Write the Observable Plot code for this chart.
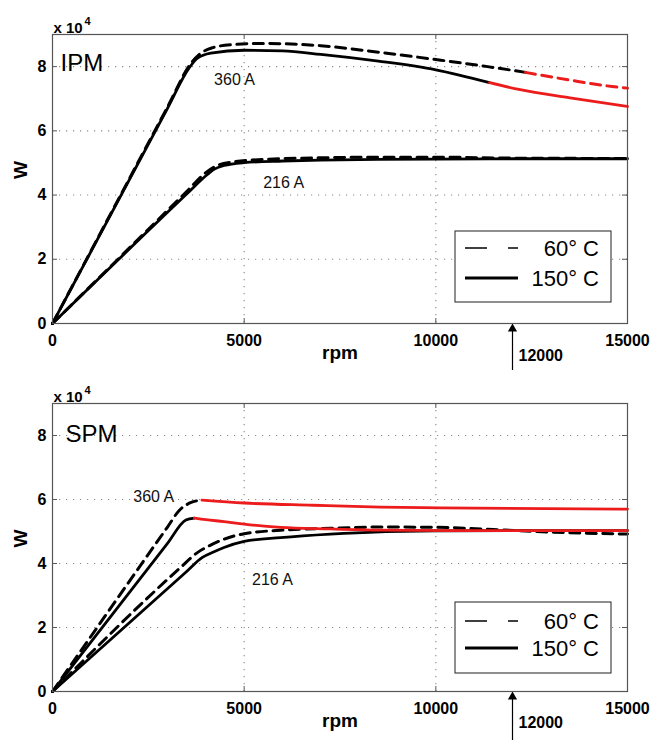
<!DOCTYPE html>
<html>
<head>
<meta charset="utf-8">
<script src="https://cdn.jsdelivr.net/npm/d3@7"></script>
<script src="https://cdn.jsdelivr.net/npm/@observablehq/plot@0.6"></script>
<style>
  body { margin: 0; background: #fff; }
  #chart svg { display: block; }
</style>
</head>
<body>
<div id="chart"></div>
<script>
// ---------- axes ----------
const xTicks = [0, 5000, 10000, 15000];
const yTicks = [0, 20000, 40000, 60000, 80000];
const gridXValues = [5000, 10000];
const gridYValues = [20000, 40000, 60000, 80000];
const xDomain = [0, 15000];
const yDomain = [0, 90000];
const markRpm = [12000];
const legendLabels = ["60° C", "150° C"];
const currentLabels = ["360 A", "216 A"];

// ---------- IPM panel ----------
const ipm360Hot_rpm    = [0, 3000, 3560, 3780, 4130, 5000, 6000, 7000, 8500, 10000, 11400];
const ipm360Hot_W      = [0, 67000, 79500, 82600, 84200, 85100, 84900, 83800, 81700, 79000, 75000];
const ipm360HotRed_rpm = [11400, 12200, 13500, 15000];
const ipm360HotRed_W   = [75000, 72800, 70300, 67600];
const ipm360Cold_rpm   = [0, 3000, 3600, 3850, 4150, 4650, 5500, 7000, 8500, 10000, 11350, 12340];
const ipm360Cold_W     = [0, 67400, 80800, 84000, 85800, 86800, 87200, 86500, 84500, 82200, 80000, 78200];
const ipm360ColdRed_rpm = [12340, 13500, 14600, 15000];
const ipm360ColdRed_W   = [78200, 75800, 73800, 73300];
const ipm216Hot_rpm    = [0, 3500, 4040, 4200, 4475, 5000, 6000, 7000, 8500, 10000, 12000, 15000];
const ipm216Hot_W      = [0, 40300, 46400, 47900, 49200, 50100, 50600, 50900, 51100, 51200, 51300, 51300];
const ipm216Cold_rpm   = [0, 3500, 4000, 4300, 4700, 5500, 7000, 8500, 10000, 12000, 15000];
const ipm216Cold_W     = [0, 41100, 47000, 49200, 50300, 51100, 51600, 51800, 51800, 51500, 51400];
const ipmLabel_rpm = [4750, 6030];
const ipmLabel_W   = [76000, 43700];

// ---------- SPM panel ----------
const spm360Hot_rpm    = [0, 3000, 3480, 3700];
const spm360Hot_W      = [0, 46300, 53600, 54200];
const spm360HotRed_rpm = [3700, 4000, 4475, 5000, 5950, 7250, 8560, 10300, 15000];
const spm360HotRed_W   = [54200, 53700, 53100, 52300, 51300, 50800, 50400, 50300, 50300];
const spm360Cold_rpm   = [0, 3000, 3300, 3600, 3900];
const spm360Cold_W     = [0, 51400, 56500, 59000, 59800];
const spm360ColdRed_rpm = [3900, 5000, 6800, 8560, 10100, 15000];
const spm360ColdRed_W   = [59800, 58900, 58200, 57600, 57400, 57000];
const spm216Hot_rpm    = [0, 3500, 3910, 4200, 4475, 5000, 5950, 7250, 8560, 10300, 12000, 15000];
const spm216Hot_W      = [0, 37500, 41900, 43600, 45000, 46900, 48100, 49200, 49900, 50200, 50300, 50300];
const spm216Cold_rpm   = [0, 3300, 3780, 4100, 4475, 5000, 5950, 7250, 8560, 10000, 11500, 13000, 15000];
const spm216Cold_W     = [0, 38300, 43400, 45600, 47600, 49300, 50400, 51000, 51400, 51300, 50600, 49800, 49200];
const spmLabel_rpm = [2640, 5740];
const spmLabel_W   = [60800, 35000];

// ---------- helpers ----------
const FONT = "'Liberation Sans', Arial, Helvetica, sans-serif";
const RED = "#ec1c1c";
const rows = (rpm, W) => rpm.map((r, i) => ({rpm: r, W: W[i]}));

function lineMark(rpm, W, color, dashed) {
  return Plot.line(rows(rpm, W), {
    x: "rpm", y: "W", stroke: color,
    strokeWidth: dashed ? 3 : 2.8,
    strokeDasharray: dashed ? "10,6.5" : null,
    curve: "monotone-x"
  });
}

function legendMark(offsetBottom, rowA, rowB) {
  return (index, scales, values, dims) => {
    const right = dims.width - dims.marginRight - 16;
    const bottom = dims.height - dims.marginBottom - offsetBottom;
    const w = 156, h = 71, left = right - w, top = bottom - h;
    const g = d3.create("svg:g");
    g.append("rect").attr("x", left).attr("y", top).attr("width", w).attr("height", h)
      .attr("fill", "white").attr("stroke", "#333").attr("stroke-width", 1.1);
    const ys = [top + rowA, top + rowB];
    g.append("line").attr("x1", left + 10).attr("x2", left + 63).attr("y1", ys[0]).attr("y2", ys[0])
      .attr("stroke", "black").attr("stroke-width", 1.6).attr("stroke-dasharray", "22,21");
    g.append("line").attr("x1", left + 10).attr("x2", left + 63).attr("y1", ys[1]).attr("y2", ys[1])
      .attr("stroke", "black").attr("stroke-width", 3);
    legendLabels.forEach((t, i) => {
      g.append("text").attr("x", right - 12).attr("y", ys[i]).attr("dy", "0.36em")
        .attr("text-anchor", "end").attr("font-family", FONT).attr("font-size", 22)
        .attr("font-weight", "normal").attr("fill", "black").text(t);
    });
    return g.node();
  };
}

function panel(cfg) {
  const frameH = cfg.height - cfg.marginTop - cfg.marginBottom;
  const frameW = 653 - 52 - 26;
  return Plot.plot({
    width: 653, height: cfg.height,
    marginTop: cfg.marginTop, marginBottom: cfg.marginBottom, marginLeft: 52, marginRight: 26,
    style: {fontFamily: FONT, fontSize: "16px", background: "white", color: "black", overflow: "visible"},
    x: {domain: xDomain},
    y: {domain: yDomain},
    marks: [
      Plot.ruleX(gridXValues, {x: d => d, stroke: "#8a8a8a", strokeWidth: 1.1, strokeDasharray: "1.2,5.8"}),
      Plot.ruleY(gridYValues, {y: d => d, stroke: "#8a8a8a", strokeWidth: 1.1, strokeDasharray: "1.2,5.8"}),
      Plot.tickX(xTicks, {x: d => d, insetTop: frameH - 5, stroke: "#555"}),
      Plot.tickX(xTicks, {x: d => d, insetBottom: frameH - 5, stroke: "#555"}),
      Plot.tickY(yTicks, {y: d => d, insetRight: frameW - 5, stroke: "#555"}),
      Plot.tickY(yTicks, {y: d => d, insetLeft: frameW - 5, stroke: "#555"}),
      ...cfg.lines.map(l => lineMark(l[0], l[1], l[2], l[3])),
      Plot.text(currentLabels, {x: (d, i) => cfg.labelRpm[i], y: (d, i) => cfg.labelW[i], text: d => d,
        fontSize: 16, fontWeight: "normal", fill: "#111"}),
      Plot.text([cfg.name], {frameAnchor: "top-left", dx: cfg.nameDx, dy: cfg.nameDy, textAnchor: "start",
        fontSize: 24, fontWeight: "normal"}),
      Plot.text(["x 10"], {frameAnchor: "top-left", dx: 1, dy: -12, textAnchor: "start", fontSize: 15, fontWeight: "bold"}),
      Plot.text(["4"], {frameAnchor: "top-left", dx: 32, dy: -17, textAnchor: "start", fontSize: 11, fontWeight: "bold"}),
      Plot.text(["W"], {frameAnchor: "left", dx: -32, rotate: -90, fontSize: 19, fontWeight: "bold"}),
      Plot.text(["rpm"], {frameAnchor: "bottom", dy: 35, fontSize: 19, fontWeight: "bold"}),
      Plot.axisX({ticks: xTicks, tickSize: 0, tickPadding: 11, fontSize: 16, fontWeight: "bold", label: null, tickFormat: d => String(d)}),
      Plot.axisY({ticks: yTicks, tickSize: 0, tickPadding: 6, fontSize: 16, fontWeight: "bold", label: null, tickFormat: d => String(d / 10000)}),
      Plot.ruleX(markRpm, {x: d => d, insetTop: frameH + 4, insetBottom: -cfg.marginBottom, stroke: "black", strokeWidth: 1.2}),
      Plot.dot(markRpm, {x: d => d, frameAnchor: "bottom", symbol: "triangle", r: 3.4, fill: "black", stroke: "none", dy: 5.3}),
      Plot.text(markRpm, {x: d => d, text: d => String(d), frameAnchor: "bottom", dx: 6, dy: cfg.arrowTextDy,
        textAnchor: "start", fontSize: 16, fontWeight: "bold"}),
      legendMark(cfg.legendBottom, cfg.legendRowA, cfg.legendRowB),
      Plot.frame({stroke: "#555", strokeWidth: 1.2})
    ]
  });
}

const topPanel = panel({
  name: "IPM", height: 370, marginTop: 34, marginBottom: 47, nameDx: 8, nameDy: 19,
  arrowTextDy: 37, legendBottom: 21, legendRowA: 17, legendRowB: 47,
  labelRpm: ipmLabel_rpm, labelW: ipmLabel_W,
  lines: [
    [ipm216Cold_rpm, ipm216Cold_W, "black", true],
    [ipm216Hot_rpm, ipm216Hot_W, "black", false],
    [ipm360Cold_rpm, ipm360Cold_W, "black", true],
    [ipm360ColdRed_rpm, ipm360ColdRed_W, RED, true],
    [ipm360Hot_rpm, ipm360Hot_W, "black", false],
    [ipm360HotRed_rpm, ipm360HotRed_W, RED, false]
  ]
});

const bottomPanel = panel({
  name: "SPM", height: 370, marginTop: 33, marginBottom: 49, nameDx: 13, nameDy: 21.5,
  arrowTextDy: 36, legendBottom: 18, legendRowA: 19, legendRowB: 46,
  labelRpm: spmLabel_rpm, labelW: spmLabel_W,
  lines: [
    [spm216Cold_rpm, spm216Cold_W, "black", true],
    [spm216Hot_rpm, spm216Hot_W, "black", false],
    [spm360Cold_rpm, spm360Cold_W, "black", true],
    [spm360Hot_rpm, spm360Hot_W, "black", false],
    [spm360ColdRed_rpm, spm360ColdRed_W, RED, false],
    [spm360HotRed_rpm, spm360HotRed_W, RED, false]
  ]
});

document.getElementById("chart").append(topPanel, bottomPanel);
</script>
</body>
</html>
